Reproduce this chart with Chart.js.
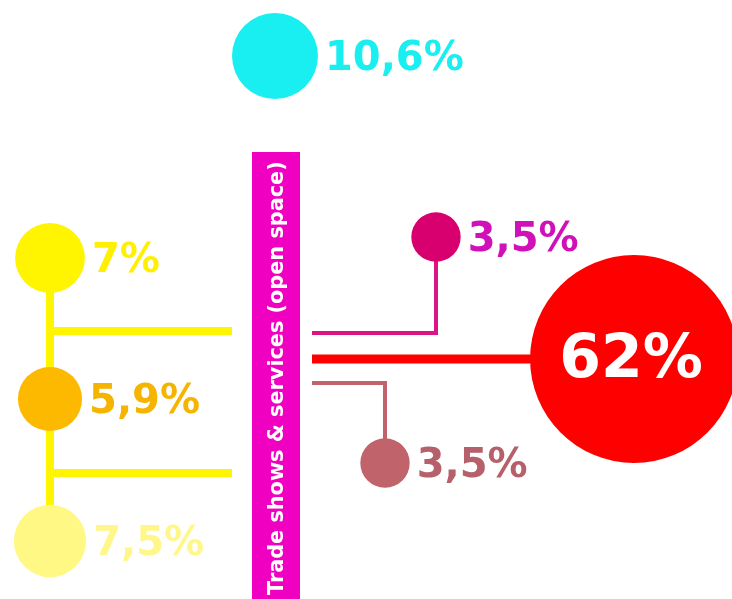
<!DOCTYPE html>
<html>
<head>
<meta charset="utf-8">
<script src="https://cdn.jsdelivr.net/npm/chart.js@4.4.1/dist/chart.umd.min.js"></script>
<style>
  html, body { margin: 0; padding: 0; background: #ffffff; }
  #wrap { width: 732px; height: 599px; position: relative; }
</style>
</head>
<body>
<div id="wrap"><canvas id="shareChart"></canvas></div>
<script>
// Data (percent share)
const labels = ['Top', 'Left 1', 'Left 2', 'Left 3', 'Right up', 'Main', 'Right down'];
const shares = [10.6, 7, 5.9, 7.5, 3.5, 62, 3.5];
const shareText = ['10,6%', '7%', '5,9%', '7,5%', '3,5%', '62%', '3,5%'];
const barTitle = 'Trade shows & services (open space)';

// Layout grid (scale units, x 0..732, y 0..599 top-down)
const posX = [275, 50, 50, 50, 436, 634, 385];
const posY = [56, 258, 399, 541, 237, 359, 463];

// Colours
const bubbleColors = ['#19eff0', '#fff500', '#fdb900', '#fff884', '#d8006e', '#ff0000', '#c0636b'];
const textColors = ['#19eff0', '#fff000', '#f5b400', '#fff78a', '#d010b8', '#ffffff', '#b5606a'];

// bubble radius from share (area encoding)
const radius = v => 13.2 * Math.sqrt(v);

const bubbles = shares.map((v, i) => ({ x: posX[i], y: posY[i], r: radius(v) }));

function connector(points, color, width) {
    return {
        type: 'line',
        data: points.map(p => ({ x: p[0], y: p[1] })),
        borderColor: color,
        borderWidth: width,
        pointRadius: 0,
        fill: false,
        tension: 0,
        borderCapStyle: 'butt',
        borderJoinStyle: 'miter',
        clip: false
    };
}

const FONT = '"DejaVu Sans", Verdana, sans-serif';

// Labels next to the bubbles + vertical title on the bar
const labelPlugin = {
    id: 'bubbleLabels',
    afterDatasetsDraw(chart) {
        const ctx = chart.ctx;
        const meta = chart.getDatasetMeta(0);
        ctx.save();
        ctx.textBaseline = 'middle';
        meta.data.forEach((el, i) => {
            const r = el.options.radius;
            ctx.fillStyle = textColors[i];
            if (i === 5) {
                ctx.font = 'bold 60px ' + FONT;
                ctx.textAlign = 'center';
                ctx.fillText(shareText[i], el.x - 3, el.y + 2);
            } else {
                ctx.font = 'bold 40px ' + FONT;
                ctx.textAlign = 'left';
                ctx.fillText(shareText[i], el.x + r + 7, el.y + 4);
            }
        });
        // vertical text on magenta bar, fitted to the bar length
        const bx = chart.scales.x.getPixelForValue(283);
        const by = chart.scales.y.getPixelForValue(595);
        const top = chart.scales.y.getPixelForValue(162);
        ctx.font = 'bold 19px ' + FONT;
        const w = ctx.measureText(barTitle).width;
        const size = 19 * (by - top) / w;
        ctx.font = 'bold ' + size.toFixed(1) + 'px ' + FONT;
        ctx.translate(bx, by);
        ctx.rotate(-Math.PI / 2);
        ctx.textAlign = 'left';
        ctx.textBaseline = 'alphabetic';
        ctx.fillStyle = '#ffffff';
        ctx.fillText(barTitle, 0, 0);
        ctx.restore();
    }
};

const data = {
    datasets: [
        {
            type: 'bubble',
            label: 'Share',
            data: bubbles,
            backgroundColor: bubbleColors,
            borderWidth: 0,
            hoverBorderWidth: 0,
            clip: false
        },
        connector([[276, 152], [276, 599]], '#f000c0', 48),
        connector([[50, 258], [50, 541]], '#fff500', 8),
        connector([[50, 331], [232, 331]], '#fff500', 8),
        connector([[50, 473], [232, 473]], '#fff500', 8),
        connector([[312, 333], [436, 333], [436, 237]], '#dc1586', 4),
        connector([[312, 359], [634, 359]], '#ff0000', 9),
        connector([[312, 383], [385, 383], [385, 463]], '#c0636b', 4)
    ]
};

const config = {
    type: 'bubble',
    data: data,
    options: {
        responsive: true,
        maintainAspectRatio: false,
        animation: false,
        events: [],
        layout: { padding: 0, autoPadding: false },
        plugins: {
            legend: { display: false },
            tooltip: { enabled: false }
        },
        scales: {
            x: { type: 'linear', min: 0, max: 732, display: false },
            y: { type: 'linear', min: 0, max: 599, reverse: true, display: false }
        }
    },
    plugins: [labelPlugin]
};

const ctx = document.getElementById('shareChart').getContext('2d');
const shareChart = new Chart(ctx, config);
</script>
</body>
</html>
